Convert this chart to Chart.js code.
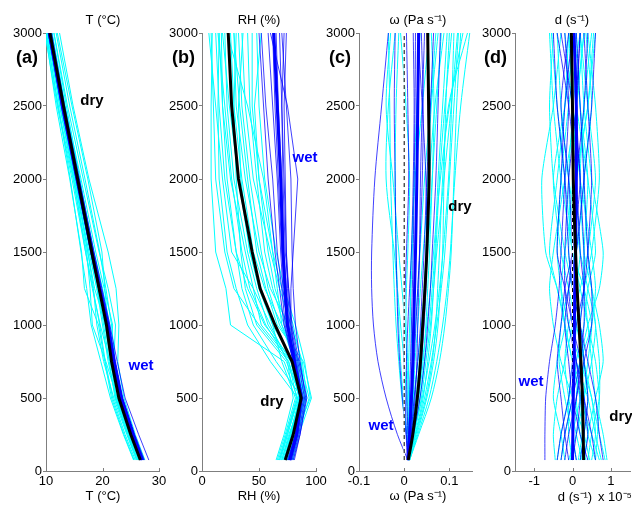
<!DOCTYPE html>
<html><head><meta charset="utf-8">
<script src="https://cdn.jsdelivr.net/npm/chart.js@4.4.1/dist/chart.umd.min.js"></script>
<style>
html,body{margin:0;padding:0;background:#fff;}
#wrap{position:relative;width:632px;height:507px;background:#fff;}
#wrap canvas{position:absolute;left:0;top:0;}
</style></head><body>
<div id="wrap">
<canvas id="pa" width="632" height="507"></canvas>
<canvas id="pb" width="632" height="507"></canvas>
<canvas id="pc" width="632" height="507"></canvas>
<canvas id="pd" width="632" height="507"></canvas>
</div>
<script>
// ---------------- data ----------------
const heights = [75, 250, 500, 750, 1000, 1250, 1500, 2000, 2500, 3000];
const yTicks = [0, 500, 1000, 1500, 2000, 2500, 3000];
const tTicks = [10, 20, 30];
const rhTicks = [0, 50, 100];
const wTicks = [-0.1, 0, 0.1];
const dTicks = [-1, 0, 1];

// (a) temperature
const tDryMean = [26.7, 25.0, 22.9, 21.6, 20.7, 19.4, 18.1, 15.6, 13.1, 10.7];
const tWetMean = [27.0, 25.4, 23.3, 22.0, 20.9, 19.5, 18.1, 15.5, 12.9, 10.6];
const tDryRuns = [
  [25.8, 24.0, 21.8, 20.5, 19.5, 18.3, 17.0, 14.6, 12.0, 9.8],
  [26.0, 24.3, 22.0, 20.2, 19.0, 18.4, 17.4, 15.0, 12.5, 10.2],
  [26.3, 24.6, 22.4, 21.0, 20.0, 19.0, 17.8, 15.3, 12.8, 10.5],
  [27.2, 25.6, 23.5, 22.2, 21.6, 20.6, 19.5, 16.9, 14.2, 11.8],
  [27.5, 25.8, 23.8, 22.7, 22.9, 22.4, 21.0, 17.6, 14.8, 12.4],
  [26.5, 24.8, 22.6, 20.6, 18.2, 17.8, 17.2, 14.8, 12.1, 10.1],
  [26.9, 25.2, 23.1, 21.8, 21.3, 20.0, 18.5, 15.9, 13.3, 11.0],
  [25.6, 23.8, 21.6, 20.4, 19.3, 16.8, 16.3, 14.2, 11.8, 9.9],
  [27.0, 25.3, 23.2, 22.0, 22.3, 21.0, 19.4, 16.6, 13.8, 11.4],
  [26.2, 24.5, 22.2, 21.2, 20.2, 19.2, 18.3, 16.0, 13.6, 11.4],
  [26.6, 24.9, 22.8, 21.5, 20.4, 19.0, 17.6, 15.1, 12.6, 10.4],
  [27.3, 25.5, 23.4, 22.1, 21.0, 20.4, 19.9, 17.4, 14.6, 12.0],
  [26.1, 24.4, 22.3, 21.6, 20.6, 18.6, 17.4, 15.2, 12.9, 10.6],
  [26.8, 25.1, 23.0, 21.3, 19.6, 18.2, 17.0, 14.9, 12.4, 10.3],
  [25.5, 23.7, 21.4, 19.7, 18.0, 17.2, 16.2, 14.3, 12.2, 10.0],
  [26.4, 24.7, 22.5, 21.4, 21.8, 20.3, 18.8, 16.2, 13.4, 11.1]
];
const tWetRuns = [
  [27.2, 25.6, 23.5, 22.2, 21.1, 19.7, 18.3, 15.7, 13.1, 10.8],
  [26.8, 25.2, 23.1, 21.8, 20.7, 19.3, 17.9, 15.3, 12.7, 10.4],
  [28.2, 26.4, 24.0, 22.6, 21.3, 19.9, 18.5, 15.9, 13.3, 11.0],
  [27.0, 25.3, 23.3, 22.0, 20.8, 19.4, 18.0, 15.4, 12.8, 10.5],
  [27.4, 25.7, 23.6, 22.3, 21.2, 19.8, 18.4, 15.8, 13.0, 10.7],
  [26.9, 25.2, 23.2, 21.9, 20.9, 19.6, 18.2, 15.6, 12.9, 10.6],
  [27.1, 25.5, 23.4, 22.1, 21.0, 19.5, 18.1, 15.5, 13.0, 10.8],
  [27.3, 25.6, 23.5, 22.2, 21.1, 19.6, 18.2, 15.4, 12.8, 10.4]
];

// (b) relative humidity
const rhDryMean = [73, 80, 87, 79, 64, 51, 44, 32, 26, 23];
const rhWetMean = [77, 83, 87, 81, 75, 73, 71, 69, 66, 63];
const rhDryRuns = [
  [68, 74, 84, 72, 25, 21, 12, 8, 8, 9],
  [72, 78, 88, 80, 55, 40, 30, 20, 15, 12],
  [75, 80, 90, 85, 70, 55, 45, 35, 28, 25],
  [65, 72, 80, 75, 60, 45, 38, 25, 18, 15],
  [78, 83, 92, 88, 78, 68, 60, 45, 38, 35],
  [70, 77, 86, 82, 72, 62, 55, 48, 42, 40],
  [73, 79, 88, 65, 45, 35, 30, 22, 18, 17],
  [76, 82, 95, 90, 82, 72, 65, 55, 50, 48],
  [67, 74, 83, 76, 50, 28, 20, 12, 10, 8],
  [74, 80, 87, 84, 76, 60, 50, 38, 30, 28],
  [71, 77, 86, 78, 58, 48, 40, 28, 22, 20],
  [79, 84, 94, 86, 68, 58, 52, 42, 35, 32],
  [69, 75, 84, 60, 40, 30, 22, 15, 14, 15],
  [77, 82, 90, 87, 80, 70, 62, 50, 44, 44],
  [72, 78, 87, 74, 48, 38, 34, 30, 28, 30],
  [66, 73, 82, 70, 62, 52, 42, 32, 24, 18],
  [80, 85, 96, 89, 66, 56, 48, 40, 33, 28],
  [74, 79, 85, 78, 52, 45, 26, 18, 12, 6],
  [70, 76, 89, 83, 74, 64, 58, 50, 46, 52],
  [75, 81, 91, 80, 62, 50, 42, 34, 32, 36],
  [68, 75, 85, 81, 70, 66, 62, 54, 40, 22],
  [73, 78, 86, 76, 56, 42, 35, 26, 20, 14]
];
const rhWetRuns = [
  [77, 83, 88, 82, 76, 74, 72, 70, 67, 65],
  [79, 85, 90, 84, 78, 76, 74, 72, 70, 68],
  [75, 82, 86, 80, 73, 70, 66, 62, 56, 52],
  [80, 86, 91, 86, 82, 80, 79, 78, 74, 70],
  [76, 82, 87, 82, 78, 78, 80, 84, 75, 60],
  [78, 84, 89, 81, 74, 72, 70, 67, 64, 62],
  [77, 83, 86, 80, 72, 68, 64, 58, 54, 50],
  [81, 86, 92, 85, 79, 76, 73, 71, 70, 72],
  [76, 82, 88, 83, 77, 75, 74, 73, 72, 74],
  [78, 84, 87, 81, 75, 71, 69, 66, 62, 58]
];

// (c) omega (Pa s-1)
const wDryMean = [0.009, 0.019, 0.029, 0.036, 0.041, 0.046, 0.050, 0.055, 0.054, 0.052];
const wWetMean = [0.008, 0.012, 0.016, 0.019, 0.021, 0.023, 0.025, 0.028, 0.030, 0.032];
const wDryRuns = [
  [0.010, 0.025, 0.045, 0.060, 0.072, 0.082, 0.090, 0.100, 0.110, 0.120],
  [0.012, 0.030, 0.055, 0.072, 0.085, 0.095, 0.102, 0.112, 0.125, 0.145],
  [0.010, 0.005, -0.005, -0.012, -0.018, -0.022, -0.025, -0.030, -0.032, -0.035],
  [0.008, 0.012, 0.015, 0.020, 0.025, 0.030, 0.035, 0.045, 0.058, 0.070],
  [0.011, 0.022, 0.035, 0.045, 0.055, 0.062, 0.068, 0.075, 0.085, 0.095],
  [0.010, 0.008, 0.005, 0.000, -0.008, -0.015, -0.022, -0.040, -0.035, -0.020],
  [0.012, 0.028, 0.050, 0.065, 0.075, 0.080, 0.085, 0.088, 0.092, 0.100],
  [0.009, 0.015, 0.022, 0.030, 0.038, 0.045, 0.052, 0.062, 0.072, 0.082],
  [0.010, 0.018, 0.030, 0.040, 0.050, 0.058, 0.065, 0.080, 0.100, 0.130],
  [0.011, 0.010, 0.008, 0.010, 0.012, 0.015, 0.018, 0.022, 0.028, 0.035],
  [0.010, 0.020, 0.040, 0.055, 0.068, 0.078, 0.086, 0.098, 0.105, 0.110],
  [0.012, 0.006, -0.002, -0.008, -0.012, -0.015, -0.018, -0.020, -0.018, -0.012],
  [0.009, 0.016, 0.026, 0.034, 0.040, 0.044, 0.048, 0.052, 0.060, 0.075],
  [0.011, 0.024, 0.042, 0.052, 0.060, 0.065, 0.070, 0.078, 0.090, 0.105],
  [0.010, 0.012, 0.012, 0.008, 0.002, -0.005, -0.012, -0.025, -0.040, -0.030],
  [0.012, 0.032, 0.060, 0.078, 0.090, 0.098, 0.104, 0.110, 0.116, 0.125],
  [0.010, 0.014, 0.020, 0.024, 0.030, 0.036, 0.042, 0.055, 0.068, 0.088],
  [0.009, 0.010, 0.010, 0.006, 0.004, 0.005, 0.008, 0.012, 0.004, -0.008],
  [0.011, 0.020, 0.032, 0.042, 0.048, 0.052, 0.056, 0.062, 0.066, 0.060],
  [0.010, 0.026, 0.048, 0.062, 0.070, 0.074, 0.078, 0.085, 0.098, 0.140],
  [0.012, 0.016, 0.020, 0.018, 0.015, 0.014, 0.016, 0.024, 0.040, 0.055],
  [0.010, 0.022, 0.038, 0.048, 0.058, 0.065, 0.072, 0.088, 0.104, 0.118]
];
const wWetRuns = [
  [0.008, -0.015, -0.040, -0.058, -0.068, -0.072, -0.072, -0.065, -0.050, -0.035],
  [0.008, 0.015, 0.022, 0.030, 0.036, 0.040, 0.044, 0.050, 0.058, 0.065],
  [0.007, 0.005, 0.002, 0.000, 0.000, 0.002, 0.005, 0.010, 0.008, 0.005],
  [0.009, 0.020, 0.035, 0.045, 0.052, 0.058, 0.062, 0.070, 0.075, 0.080],
  [0.008, 0.010, 0.012, 0.014, 0.016, 0.018, 0.020, 0.022, 0.024, 0.025],
  [0.008, 0.004, -0.004, -0.010, -0.014, -0.016, -0.018, -0.020, -0.022, -0.020],
  [0.009, 0.016, 0.024, 0.028, 0.030, 0.032, 0.034, 0.036, 0.040, 0.045],
  [0.008, 0.008, 0.006, 0.005, 0.008, 0.012, 0.016, 0.020, 0.022, 0.020],
  [0.009, 0.018, 0.030, 0.038, 0.044, 0.048, 0.050, 0.048, 0.040, 0.030],
  [0.008, 0.012, 0.018, 0.022, 0.026, 0.030, 0.034, 0.040, 0.042, 0.038]
];

// (d) divergence (x 1e-5 s-1)
const dDryMean = [0.29, 0.28, 0.26, 0.22, 0.17, 0.12, 0.08, 0.02, 0.00, -0.03];
const dWetMean = [0.0, 0.01, 0.02, 0.04, 0.05, 0.06, 0.08, 0.10, 0.10, 0.04];
const dDryRuns = [
  [0.85, 0.7, 0.5, 0.3, 0.1, -0.1, -0.3, -0.5, -0.2, 0.1],
  [-0.4, -0.3, -0.1, 0.2, 0.5, 0.6, 0.5, 0.2, 0.0, -0.2],
  [0.6, 0.65, 0.7, 0.6, 0.4, 0.2, 0.0, -0.3, -0.5, -0.6],
  [-0.2, -0.3, -0.5, -0.4, -0.2, -0.4, -0.7, -0.8, -0.5, -0.3],
  [0.3, 0.4, 0.6, 0.8, 0.7, 0.5, 0.3, 0.2, 0.3, 0.5],
  [0.1, 0.0, -0.2, -0.35, -0.3, -0.1, 0.1, 0.3, 0.2, 0.0],
  [0.7, 0.5, 0.2, 0.0, -0.2, -0.3, -0.2, 0.1, 0.4, 0.6],
  [-0.1, 0.1, 0.3, 0.5, 0.6, 0.4, 0.2, -0.1, -0.3, -0.4],
  [0.45, 0.3, 0.0, -0.3, -0.5, -0.6, -0.5, -0.2, 0.1, 0.3],
  [0.2, 0.3, 0.4, 0.3, 0.2, 0.3, 0.5, 0.7, 0.6, 0.4],
  [-0.3, -0.2, 0.0, 0.1, 0.3, 0.4, 0.6, 0.4, 0.1, -0.1],
  [0.5, 0.6, 0.5, 0.2, -0.1, -0.3, -0.4, -0.3, -0.1, 0.2],
  [0.0, -0.1, -0.1, 0.0, 0.1, 0.0, -0.2, -0.5, -0.6, -0.5],
  [0.9, 0.8, 0.6, 0.5, 0.4, 0.3, 0.3, 0.4, 0.2, 0.1],
  [0.35, 0.2, 0.1, 0.2, 0.4, 0.7, 0.8, 0.5, 0.3, 0.2],
  [-0.45, -0.5, -0.4, -0.2, 0.0, 0.1, 0.0, -0.2, -0.4, -0.55],
  [0.6, 0.4, 0.3, 0.4, 0.5, 0.3, 0.0, -0.1, 0.0, -0.1],
  [0.15, 0.25, 0.2, 0.0, -0.2, -0.4, -0.6, -0.4, -0.2, -0.1],
  [0.75, 0.6, 0.4, 0.1, 0.0, 0.1, 0.2, 0.1, 0.4, 0.55],
  [-0.05, 0.0, 0.2, 0.3, 0.2, 0.0, -0.1, 0.0, 0.1, 0.3],
  [0.4, 0.5, 0.7, 0.7, 0.6, 0.5, 0.4, 0.3, 0.5, 0.35],
  [0.25, 0.1, -0.1, -0.2, -0.1, 0.2, 0.4, 0.6, 0.4, 0.2]
];
const dWetRuns = [
  [-0.72, -0.72, -0.70, -0.60, -0.45, -0.35, -0.3, -0.2, -0.1, -0.2],
  [0.6, 0.5, 0.3, 0.1, -0.1, -0.2, -0.2, -0.1, 0.1, 0.2],
  [-0.3, -0.2, 0.0, 0.2, 0.3, 0.3, 0.2, 0.1, -0.1, -0.4],
  [0.2, 0.3, 0.4, 0.3, 0.2, 0.1, 0.0, 0.1, 0.3, 0.4],
  [-0.1, -0.2, -0.3, -0.4, -0.3, -0.2, 0.0, 0.2, 0.0, -0.3],
  [0.8, 0.7, 0.6, 0.4, 0.2, 0.0, -0.1, -0.2, -0.4, -0.5],
  [0.1, 0.0, 0.1, 0.3, 0.5, 0.5, 0.4, 0.3, 0.2, 0.1],
  [-0.4, -0.3, -0.1, 0.0, 0.1, 0.3, 0.4, 0.5, 0.4, 0.3],
  [0.4, 0.2, 0.0, -0.1, -0.2, -0.1, 0.1, 0.3, 0.5, 0.6],
  [0.0, 0.1, 0.2, 0.1, 0.0, -0.2, -0.4, -0.3, -0.2, 0.0],
  [0.3, 0.4, 0.3, 0.2, 0.2, 0.3, 0.3, 0.2, 0.1, 0.2],
  [-0.2, -0.1, 0.1, 0.2, 0.0, -0.1, 0.0, -0.1, -0.3, -0.1]
];

// ---------------- drawing ----------------
const FONT = '"Liberation Sans", Arial, Helvetica, sans-serif';
const CYAN = '#00ffff';
const BLUE = '#0000ff';
const THINBLUE = 'rgba(0,0,255,0.75)';
const AXIS = '#7f7f7f';

function pts(vals) { return vals.map((v, i) => ({ x: v, y: heights[i] })); }
function ds(vals, color, width, tension, extra) {
  return Object.assign({ data: pts(vals), showLine: true, borderColor: color, backgroundColor: color,
    borderWidth: width, pointRadius: 0, pointHoverRadius: 0, tension: tension }, extra || {});
}

function makePanel(id, p) {
  const datasets = [];
  datasets.push(ds(p.dryMean, '#000000', 3, p.tension));
  datasets.push(ds(p.wetMean, BLUE, 3, p.tension));
  if (p.zeroLine) {
    datasets.push({ data: [{ x: 0, y: heights[0] }, { x: 0, y: 3000 }], showLine: true, borderColor: '#000',
      borderWidth: 1, borderDash: [4, 3], pointRadius: 0 });
    datasets.push({ data: [{ x: 0, y: heights[0] }, { x: 0, y: 3000 }], showLine: true, borderColor: '#fff',
      borderWidth: 1.5, pointRadius: 0 });
  }
  p.wetRuns.forEach(r => datasets.push(ds(r, THINBLUE, 1, p.tension)));
  p.dryRuns.forEach(r => datasets.push(ds(r, CYAN, 1, p.tension)));

  const texts = p.texts;
  const textPlugin = {
    id: 'panelTexts',
    afterDraw(chart) {
      const ctx = chart.ctx;
      ctx.save();
      const xs = chart.scales.x;
      ctx.strokeStyle = AXIS; ctx.lineWidth = 1;
      xs.ticks.forEach(t => {
        const px = Math.round(xs.getPixelForValue(t.value)) + 0.5;
        ctx.beginPath(); ctx.moveTo(px, chart.chartArea.bottom); ctx.lineTo(px, chart.chartArea.bottom - 3); ctx.stroke();
      });
      texts.forEach(it => {
        ctx.font = it.font; ctx.fillStyle = it.color || '#000';
        ctx.textAlign = it.align || 'center'; ctx.textBaseline = 'middle';
        ctx.fillText(it.text, it.x, it.y);
      });
      ctx.restore();
    }
  };

  new Chart(document.getElementById(id), {
    type: 'scatter',
    data: { datasets },
    options: {
      responsive: false, animation: false, devicePixelRatio: 1, events: [],
      layout: { padding: { left: p.plotLeft - 44, right: 632 - p.plotRight, top: 33, bottom: 0 } },
      plugins: { legend: { display: false }, tooltip: { enabled: false } },
      scales: {
        x: {
          type: 'linear', min: p.min, max: p.max,
          afterBuildTicks: s => { s.ticks = p.ticks.map(v => ({ value: v })); },
          afterFit: s => { s.height = 36; },
          grid: { display: true, drawOnChartArea: false, drawTicks: false },
          border: { display: true, color: AXIS, width: 1 },
          ticks: { padding: 3, color: '#000', font: { family: FONT, size: 13 }, maxRotation: 0, autoSkip: false,
            callback: v => String(v) }
        },
        y: {
          type: 'linear', min: 0, max: 3000,
          afterBuildTicks: s => { s.ticks = yTicks.map(v => ({ value: v })); },
          afterFit: s => { s.width = 44; },
          grid: { display: true, drawOnChartArea: false, drawTicks: true, tickLength: 3, color: AXIS },
          border: { display: true, color: AXIS, width: 1 },
          ticks: { padding: 1, color: '#000', font: { family: FONT, size: 13 }, autoSkip: false,
            callback: v => String(v) }
        }
      }
    },
    plugins: [textPlugin]
  });
}

const F13 = '13px ' + FONT;
const FLAB = 'bold 18px ' + FONT;
const FANN = 'bold 15px ' + FONT;

makePanel('pa', {
  plotLeft: 46, plotRight: 159, min: 10, max: 30, ticks: tTicks, tension: 0,
  dryMean: tDryMean, wetMean: tWetMean, dryRuns: tDryRuns, wetRuns: tWetRuns,
  texts: [
    { text: 'T (°C)', x: 103, y: 20, font: F13 },
    { text: 'T (°C)', x: 103, y: 496, font: F13 },
    { text: '(a)', x: 38, y: 58, font: FLAB, align: 'right' },
    { text: 'dry', x: 92, y: 101, font: FANN },
    { text: 'wet', x: 141, y: 366, font: FANN, color: BLUE }
  ]
});
makePanel('pb', {
  plotLeft: 202, plotRight: 316, min: 0, max: 100, ticks: rhTicks, tension: 0,
  dryMean: rhDryMean, wetMean: rhWetMean, dryRuns: rhDryRuns, wetRuns: rhWetRuns,
  texts: [
    { text: 'RH (%)', x: 259, y: 20, font: F13 },
    { text: 'RH (%)', x: 259, y: 496, font: F13 },
    { text: '(b)', x: 195, y: 58, font: FLAB, align: 'right' },
    { text: 'wet', x: 305, y: 158, font: FANN, color: BLUE },
    { text: 'dry', x: 272, y: 402, font: FANN }
  ]
});
makePanel('pc', {
  plotLeft: 359, plotRight: 472, min: -0.1, max: 0.15, ticks: wTicks, tension: 0.3, zeroLine: true,
  dryMean: wDryMean, wetMean: wWetMean, dryRuns: wDryRuns, wetRuns: wWetRuns,
  texts: [
    { text: 'ω (Pa s⁻¹)', x: 418, y: 20, font: F13 },
    { text: 'ω (Pa s⁻¹)', x: 418, y: 496, font: F13 },
    { text: '(c)', x: 351, y: 58, font: FLAB, align: 'right' },
    { text: 'dry', x: 460, y: 207, font: FANN },
    { text: 'wet', x: 381, y: 426, font: FANN, color: BLUE }
  ]
});
makePanel('pd', {
  plotLeft: 515, plotRight: 630, min: -1.5, max: 1.5, ticks: dTicks, tension: 0.2, zeroLine: true,
  dryMean: dDryMean, wetMean: dWetMean, dryRuns: dDryRuns, wetRuns: dWetRuns,
  texts: [
    { text: 'd (s⁻¹)', x: 572, y: 20, font: F13 },
    { text: 'd (s⁻¹)', x: 575, y: 497, font: F13 },
    { text: 'x 10⁻⁵', x: 598, y: 497, font: F13, align: 'left' },
    { text: '(d)', x: 507, y: 58, font: FLAB, align: 'right' },
    { text: 'wet', x: 531, y: 382, font: FANN, color: BLUE },
    { text: 'dry', x: 621, y: 417, font: FANN }
  ]
});
</script>
</body></html>
